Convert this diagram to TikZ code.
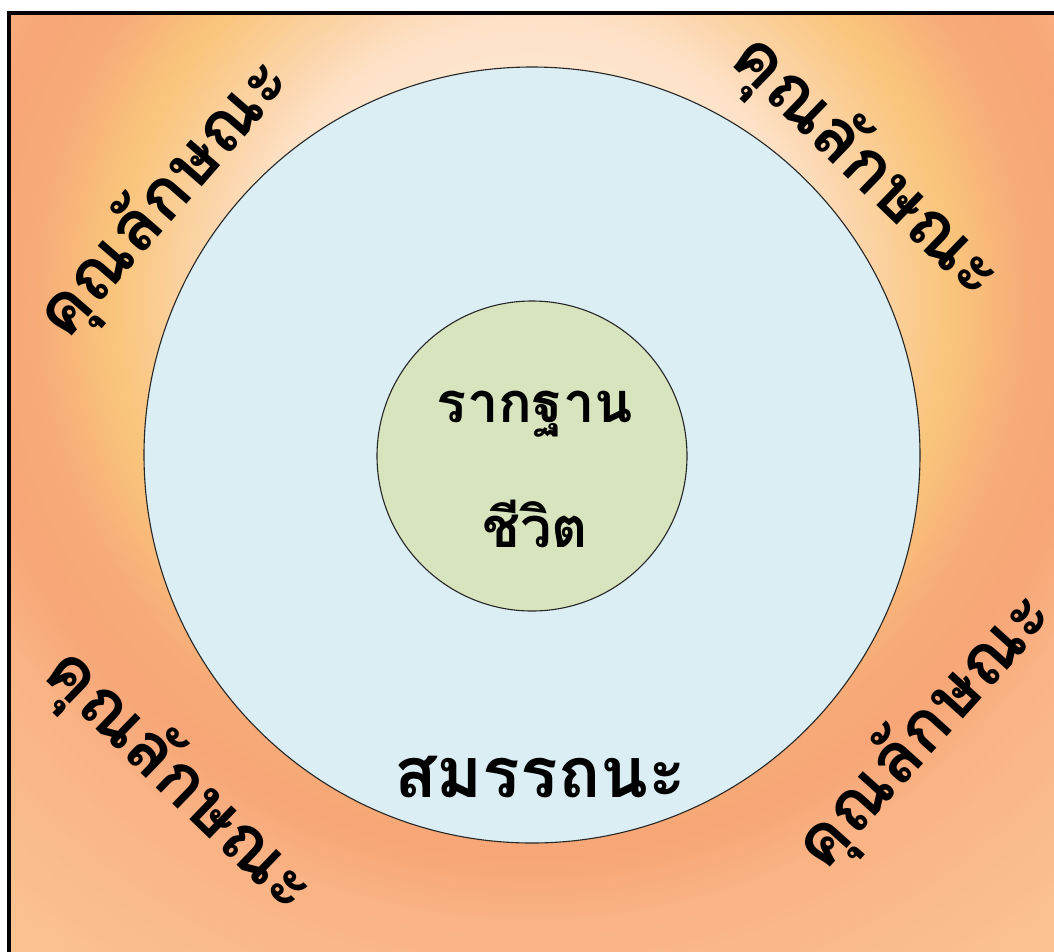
\documentclass[tikz,border=0pt]{standalone}
\usepackage{fontspec}
\newfontfamily\thai[Script=Thai]{Loma}
\definecolor{blueC}{HTML}{DAEEF3}
\definecolor{greenC}{HTML}{D7E4BD}
\definecolor{g0}{HTML}{FFF4E8}
\definecolor{g1}{HTML}{FDE2C8}
\definecolor{g2}{HTML}{FCD5AB}
\definecolor{g3}{HTML}{F9C57C}
\definecolor{g4}{HTML}{F7AB78}
\definecolor{g5}{HTML}{F7A677}
\definecolor{g6}{HTML}{F9B283}
\definecolor{g7}{HTML}{FBC290}
\tikzset{
  ring/.style={circle, draw=black!85, line width=1.1pt, inner sep=0pt},
  corner/.style={font=\thai\bfseries\fontsize{70}{80}\selectfont, inner sep=0pt},
  mid/.style={font=\thai\bfseries\fontsize{56}{64}\selectfont, inner sep=0pt, anchor=base},
}
\begin{document}
\begin{tikzpicture}[x=1pt,y=-1pt]
\useasboundingbox (0,0) rectangle (1054,951);
\fill[white] (0,0) rectangle (1054,951);
\begin{scope}
\clip (9,13) rectangle (1070,970);
\foreach \ra/\rb/\ca/\cb in {860/820/g7/g7, 820/620/g7/g6, 620/560/g6/g5, 560/500/g5/g4, 500/420/g4/g3, 420/330/g3/g2, 330/280/g2/g1, 280/0/g1/g0} {
  \foreach \t in {0,...,24} {
    \pgfmathsetmacro\rr{\ra-(\ra-\rb)*\t/25}
    \pgfmathtruncatemacro\pp{100-4*\t}
    \colorlet{tmpc}{\ca!\pp!\cb}
    \fill[tmpc] (532,300) circle (\rr);
  }
}
\end{scope}
\draw[line width=3.2pt] (9,13) rectangle (1070,970);
\node[ring, fill=blueC, minimum size=776] (outer) at (532,455) {};
\node[ring, fill=greenC, minimum size=310] (inner) at (532,456) {};
\node[mid] (t1) at (535,422) {รากฐาน};
\node[mid] (t2) at (535,547) {ชีวิต};
\node[mid, font=\thai\bfseries\fontsize{70}{78}\selectfont] (t3) at (540,797) {สมรรถนะ};
\node[corner, rotate=49] (k1) at (165,200) {คุณลักษณะ};
\node[corner, rotate=-44] (k2) at (865,168) {คุณลักษณะ};
\node[corner, rotate=-44] (k3) at (178,782) {คุณลักษณะ};
\node[corner, rotate=48] (k4) at (926,732) {คุณลักษณะ};
\end{tikzpicture}
\end{document}
